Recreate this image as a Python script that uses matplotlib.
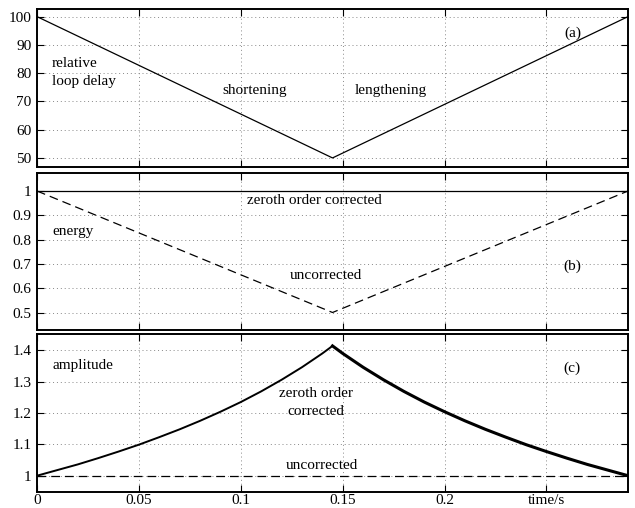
import matplotlib
matplotlib.use('Agg')
import matplotlib.pyplot as plt

plt.rcParams['font.family'] = ['Liberation Serif', 'DejaVu Serif']
plt.rcParams['font.size'] = 11

# (a) relative loop delay, percent
delay_t = [0.0, 0.145, 0.29]
delay_val = [100, 50, 100]

# (b) energy
energy_t = [0.0, 0.145, 0.29]
energy_uncorr = [1.0, 0.5, 1.0]
energy_corr = [1.0, 1.0, 1.0]

# (c) amplitude, values
amp_t_rise = [0.0, 0.01, 0.02, 0.03, 0.04, 0.05, 0.06, 0.07, 0.08, 0.09,
              0.10, 0.11, 0.12, 0.13, 0.14, 0.145]
amp_rise = [1.000, 1.018, 1.036, 1.056, 1.077, 1.099, 1.123, 1.148, 1.175, 1.204,
            1.235, 1.269, 1.306, 1.346, 1.390, 1.414]
amp_t_fall = [0.145, 0.15, 0.16, 0.17, 0.18, 0.19, 0.20, 0.21, 0.22, 0.23,
              0.24, 0.25, 0.26, 0.27, 0.28, 0.29]
amp_fall = [1.414, 1.390, 1.346, 1.306, 1.269, 1.235, 1.204, 1.175, 1.148, 1.123,
            1.099, 1.077, 1.056, 1.036, 1.018, 1.000]
amp_uncorr_t = [0.0, 0.29]
amp_uncorr = [1.0, 1.0]

xticks = [0, 0.05, 0.1, 0.15, 0.2, 0.25]
xticklabels = ['0', '0.05', '0.1', '0.15', '0.2', 'time/s']

fig = plt.figure(figsize=(6.35, 5.08), dpi=100)
ax_a = fig.add_axes([0.0583, 0.6713, 0.9307, 0.311])
ax_b = fig.add_axes([0.0583, 0.3504, 0.9307, 0.309])
ax_c = fig.add_axes([0.0583, 0.0315, 0.9307, 0.311])

dash = (0, (7, 4))

ax_a.plot(delay_t, delay_val, color='black', lw=0.9)
ax_a.set_ylim(46.8, 102.7)
ax_a.set_yticks([50, 60, 70, 80, 90, 100])

ax_b.plot(energy_t, energy_corr, color='black', lw=0.9)
ax_b.plot(energy_t, energy_uncorr, color='black', lw=0.9, linestyle=dash)
ax_b.set_ylim(0.428, 1.074)
ax_b.set_yticks([0.5, 0.6, 0.7, 0.8, 0.9, 1])
ax_b.set_yticklabels(['0.5', '0.6', '0.7', '0.8', '0.9', '1'])

ax_c.plot(amp_t_rise, amp_rise, color='black', lw=1.4)
ax_c.plot(amp_t_fall, amp_fall, color='black', lw=2.2)
ax_c.plot(amp_uncorr_t, amp_uncorr, color='black', lw=0.9, linestyle=dash)
ax_c.set_ylim(0.948, 1.452)
ax_c.set_yticks([1, 1.1, 1.2, 1.3, 1.4])
ax_c.set_yticklabels(['1', '1.1', '1.2', '1.3', '1.4'])

for ax in (ax_a, ax_b, ax_c):
    ax.set_xlim(0, 0.29)
    ax.set_xticks(xticks)
    ax.grid(True, color='#888888', lw=0.7, linestyle=(0, (1, 3)))
    ax.tick_params(direction='in', length=5, width=0.8, top=True, right=True,
                   labelsize=11, pad=4)
    for s in ax.spines.values():
        s.set_linewidth(1.4)
ax_a.set_xticklabels([])
ax_b.set_xticklabels([])
ax_c.set_xticklabels(xticklabels)
ax_c.tick_params(axis='x', pad=1.5)

ax_a.text(0.2627, 94.2, '(a)', ha='center', va='center')
ax_a.text(0.0074, 80.1, 'relative\nloop delay', ha='left', va='center', linespacing=1.5)
ax_a.text(0.107, 74.0, 'shortening', ha='center', va='center')
ax_a.text(0.1735, 74.0, 'lengthening', ha='center', va='center')

ax_b.text(0.136, 0.959, 'zeroth order corrected', ha='center', va='center')
ax_b.text(0.0074, 0.835, 'energy', ha='left', va='center')
ax_b.text(0.2627, 0.691, '(b)', ha='center', va='center')
ax_b.text(0.1417, 0.654, 'uncorrected', ha='center', va='center')

ax_c.text(0.0074, 1.352, 'amplitude', ha='left', va='center')
ax_c.text(0.2627, 1.342, '(c)', ha='center', va='center')
ax_c.text(0.1368, 1.233, 'zeroth order\ncorrected', ha='center', va='center', linespacing=1.5)
ax_c.text(0.1397, 1.0334, 'uncorrected', ha='center', va='center')

fig.savefig('out.png', dpi=100)
